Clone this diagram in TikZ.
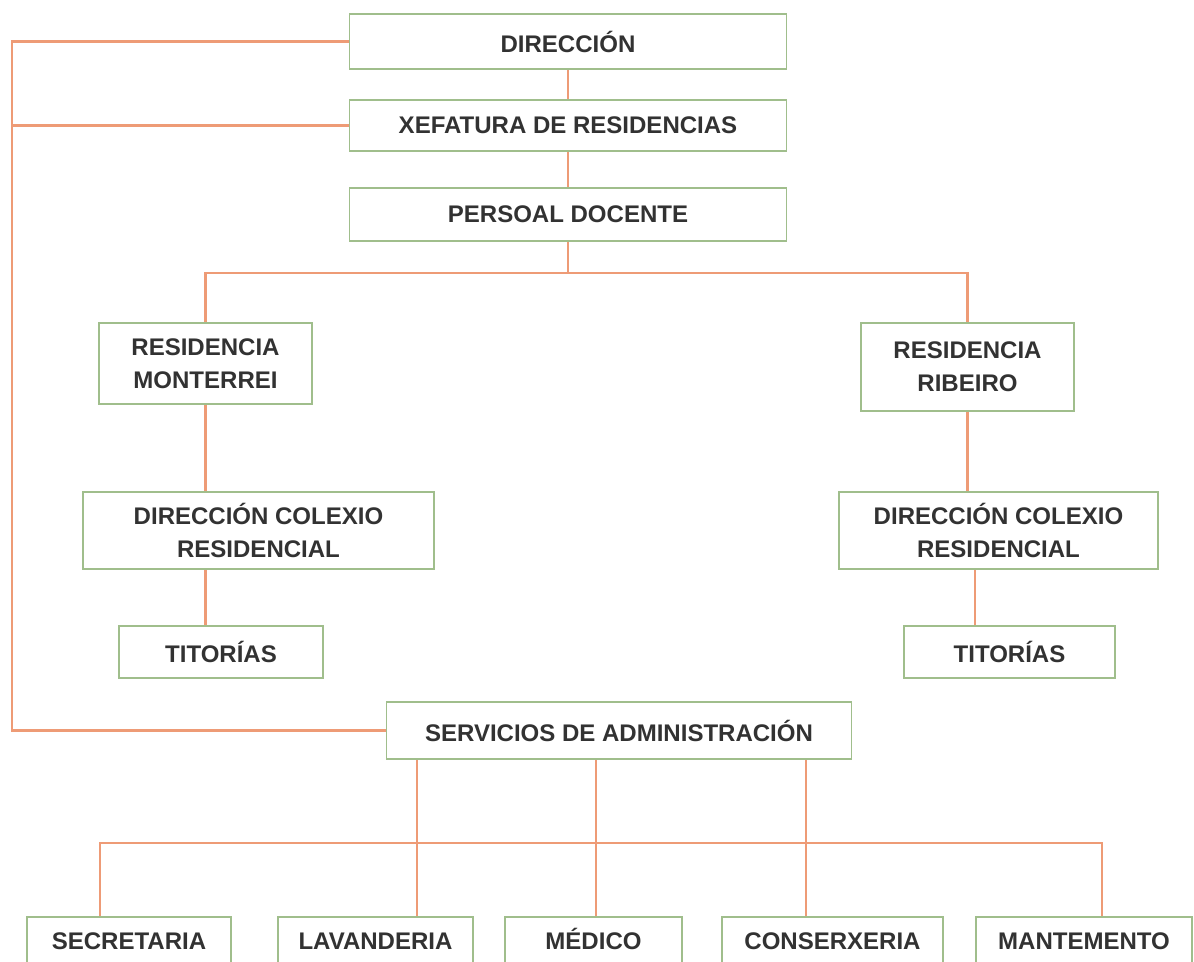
\documentclass[tikz,border=0pt]{standalone}
\usepackage{fontspec}
\setmainfont{Liberation Sans}
\usepackage{xcolor}
\usetikzlibrary{positioning,calc}
\definecolor{BoxGreen}{RGB}{160,190,140}
\definecolor{LinkOrange}{RGB}{238,155,118}
\definecolor{TextGray}{RGB}{50,50,50}
\tikzset{
	orgbox/.style={draw=BoxGreen,line width=1.6pt,fill=white,align=center,inner sep=2pt,
		text=TextGray,font=\bfseries\fontsize{20.5}{28}\selectfont},
	rowbox/.style={orgbox,anchor=north,text height=15pt,text depth=4pt},
	sz/.style 2 args={minimum width=#1*0.03cm,minimum height=#2*0.03cm},
	link/.style={draw=LinkOrange,line width=1.8pt}
}

\begin{document}
\begin{tikzpicture}[x=0.03cm,y=-0.03cm]
		\useasboundingbox (0,0) rectangle (1194,962);
		\clip (0,0) rectangle (1194,962);
		\fill[white] (0,0) rectangle (1194,962);
		\coordinate (lb) at (12,0);
		\coordinate (rx) at (975,0);
		\coordinate (v1) at (417,0);
		\coordinate (v2) at (596,0);
		\coordinate (v3) at (806,0);
		\coordinate (b1) at (100,843);
		\coordinate (b2) at (1102,843);
		\node[orgbox,sz={437}{55}] (dir) at (568,41.5) {DIRECCIÓN};
		\node[orgbox,sz={437}{51}] (xef) at (568,125.5) {XEFATURA DE RESIDENCIAS};
		\node[orgbox,sz={437}{53}] (pd) at (568,214.5) {PERSOAL DOCENTE};
		\node[orgbox,sz={213}{81}] (rm) at (205.5,363.5) {RESIDENCIA\\MONTERREI};
		\node[orgbox,sz={213}{88}] (rr) at (967.5,367) {RESIDENCIA\\RIBEIRO};
		\node[orgbox,sz={351}{77}] (dcl) at (258.5,530.5) {DIRECCIÓN COLEXIO\\RESIDENCIAL};
		\node[orgbox,sz={319}{77}] (dcr) at (998.5,530.5) {DIRECCIÓN COLEXIO\\RESIDENCIAL};
		\node[orgbox,sz={204}{52}] (tl) at (221,652) {TITORÍAS};
		\node[orgbox,sz={211}{52}] (tr) at (1009.5,652) {TITORÍAS};
		\node[orgbox,sz={465}{57}] (serv) at (619,730.5) {SERVICIOS DE ADMINISTRACIÓN};
		\node[rowbox,sz={204}{52}] (sec) at (129,916) {SECRETARIA};
		\node[rowbox,sz={195}{52}] (lav) at (375.5,916) {LAVANDERIA};
		\node[rowbox,sz={177}{52}] (med) at (593.5,916) {MÉDICO};
		\node[rowbox,sz={221}{52}] (con) at (832.5,916) {CONSERXERIA};
		\node[rowbox,sz={216}{52}] (man) at (1084,916) {MANTEMENTO};
		\draw[link] (dir.south) -- (xef.north);
		\draw[link] (xef.south) -- (pd.north);
		\draw[link] (pd.south) -- ++(0,31) coordinate (pdj);
		\draw[link] (rm.north) |- (pdj) -| (rr.north);
		\draw[link] (rm.south) -- (rm.south |- dcl.north);
		\draw[link] (rm.south |- dcl.south) -- (rm.south |- tl.north);
		\draw[link] (rr.south) -- (rr.south |- dcr.north);
		\draw[link] (rx |- dcr.south) -- (rx |- tr.north);
		\draw[link] (dir.west) -| (lb |- serv.west) -- (serv.west);
		\draw[link] (xef.west) -- (lb |- xef.west);
		\draw[link] (v1 |- serv.south) -- (v1 |- lav.north);
		\draw[link] (v2 |- serv.south) -- (v2 |- med.north);
		\draw[link] (v3 |- serv.south) -- (v3 |- con.north);
		\draw[link] (b1 |- sec.north) -- (b1) -- (b2) -- (b2 |- man.north);
	\end{tikzpicture}
\end{document}
